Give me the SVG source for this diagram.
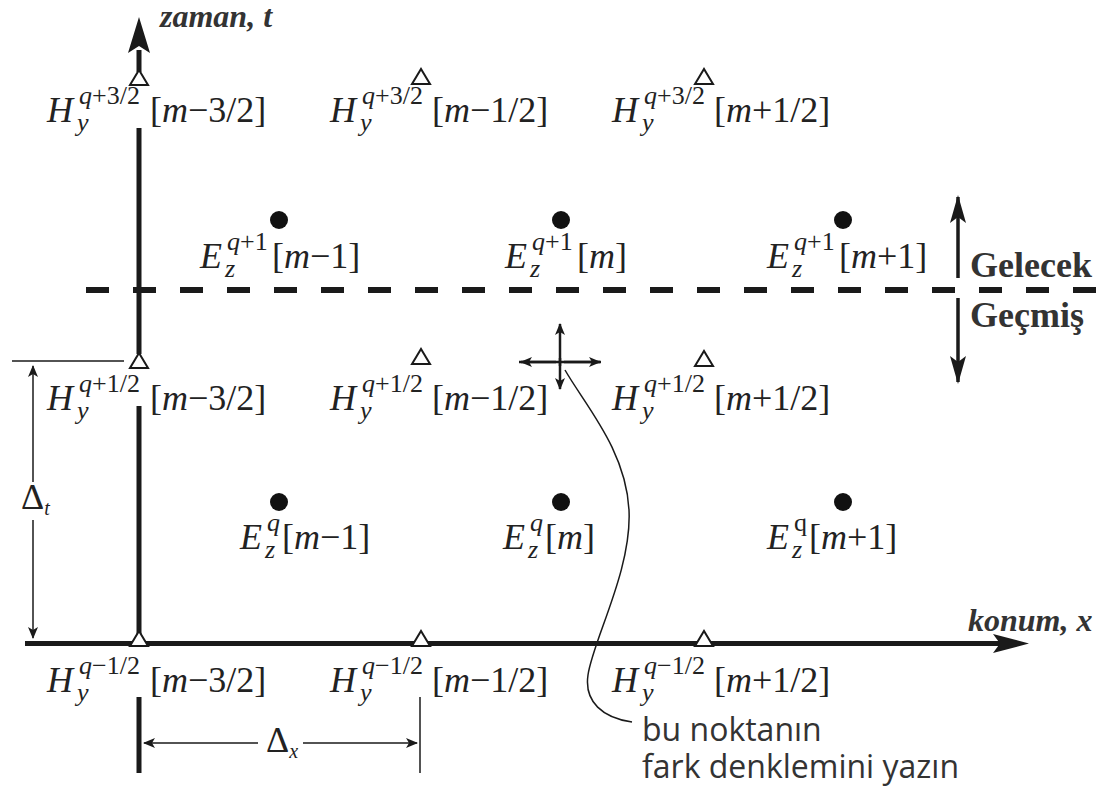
<svg xmlns="http://www.w3.org/2000/svg" width="1113" height="789" viewBox="0 0 1113 789">
<style>
.m{font-size:36px;fill:#222}
.s{font-size:26px;fill:#222}
.i{font-style:italic}
.b{font-weight:bold;fill:#333}
.n{font-family:"Open Sans","Noto Sans",sans-serif;font-size:32px;fill:#333}
.ax{stroke:#1a1a1a;stroke-width:5;fill:none}
.thin{stroke:#1a1a1a;stroke-width:1.5;fill:none}
.tri{fill:#fff;stroke:#1a1a1a;stroke-width:2}
.dot{fill:#111}
</style>
<defs>
<marker id="ah" markerWidth="12" markerHeight="10" refX="11" refY="5" orient="auto" markerUnits="userSpaceOnUse"><path d="M0,0 L12,5 L0,10 L3,5 Z" fill="#1a1a1a"/></marker>
<marker id="ahb" markerWidth="28" markerHeight="16" refX="26" refY="8" orient="auto" markerUnits="userSpaceOnUse"><path d="M0,0 L28,8 L0,16 L6,8 Z" fill="#1a1a1a"/></marker>
</defs>
<g id="connectors">
<path class="ax" d="M139,50 V72 M139,128 V354 M139,406 V640 M139,697 V773"/>
<path d="M139,17 L150,53 L139,46 L128,53 Z" fill="#1a1a1a"/>
<path class="ax" d="M25,643.5 H1000"/>
<path d="M1029,643.5 L993,634 L1000,643.5 L993,653 Z" fill="#1a1a1a"/>
<path d="M86,290 H1096" stroke="#1a1a1a" stroke-width="6" stroke-dasharray="23 24"/>
<path d="M958,278 V197" stroke="#1a1a1a" stroke-width="3.5" marker-end="url(#ahb)"/>
<path d="M958,298 V382" stroke="#1a1a1a" stroke-width="3.5" marker-end="url(#ahb)"/>
<path d="M556,362 H521" stroke="#1a1a1a" stroke-width="2.5" marker-end="url(#ah)"/>
<path d="M564,362 H600" stroke="#1a1a1a" stroke-width="2.5" marker-end="url(#ah)"/>
<path d="M560,366 V324" stroke="#1a1a1a" stroke-width="2.5" marker-end="url(#ah)"/>
<path d="M560,358 V389" stroke="#1a1a1a" stroke-width="2.5" marker-end="url(#ah)"/>
<path d="M519,362 H601" stroke="#1a1a1a" stroke-width="2.5"/>
<path class="thin" d="M632,722 C603,718 584,702 588,675 C593,640 632,570 629,510 C626,450 585,405 565,370"/>
<path class="thin" d="M12,361 H124"/>
<path class="thin" d="M33,482 V366" marker-end="url(#ah)"/>
<path class="thin" d="M33,520 V638" marker-end="url(#ah)"/>
<path class="thin" d="M420,697 V773"/>
<path class="thin" d="M258,743 H144" marker-end="url(#ah)"/>
<path class="thin" d="M303,743 H417" marker-end="url(#ah)"/>
</g>
<g id="triangles">
<polygon class="tri" points="130,85 148,85 139,70"/>
<polygon class="tri" points="412,84 430,84 421,69"/>
<polygon class="tri" points="695,84 713,84 704,69"/>
<polygon class="tri" points="130,368 148,368 139,353"/>
<polygon class="tri" points="412,364 430,364 421,349"/>
<polygon class="tri" points="695,366 713,366 704,351"/>
<polygon class="tri" points="130,646 148,646 139,631"/>
<polygon class="tri" points="412,646 430,646 421,631"/>
<polygon class="tri" points="695,646 713,646 704,631"/>
</g>
<g id="dots">
<circle class="dot" cx="279" cy="220" r="9"/>
<circle class="dot" cx="561" cy="220" r="9"/>
<circle class="dot" cx="843" cy="220" r="9"/>
<circle class="dot" cx="279" cy="502" r="9"/>
<circle class="dot" cx="561" cy="502" r="9"/>
<circle class="dot" cx="843" cy="502" r="9"/>
</g>
<g id="note">
<text class="n" x="642" y="741">bu noktanın</text>
<text class="n" x="642" y="778">fark denklemini yazın</text>
</g>
<g font-family="Liberation Serif, Tinos, Times New Roman, Times, Noto Serif, DejaVu Serif, serif">
<g id="axis-labels">
<text class="b i" x="160" y="27" font-size="32">zaman, t</text>
<text class="b i" x="968" y="631" font-size="32">konum, x</text>
<text class="b" x="970" y="277" font-size="36">Gelecek</text>
<text class="b" x="970" y="327" font-size="36">Geçmiş</text>
<text class="m" x="21" y="509" font-size="28">Δ<tspan class="i" font-size="20" dy="6">t</tspan></text>
<text class="m" x="266" y="752" font-size="28">Δ<tspan class="i" font-size="20" dy="6">x</tspan></text>
</g>
<g id="H-row1">
<text class="m i" x="47" y="122">H</text><text class="s" x="79" y="104"><tspan class="i">q</tspan>+3/2</text><text class="s i" x="77" y="131">y</text><text class="m" x="150" y="122">[<tspan class="i">m</tspan>−3/2]</text>
</g>
<g id="H-row1b">
<text class="m i" x="330" y="122">H</text><text class="s" x="362" y="104"><tspan class="i">q</tspan>+3/2</text><text class="s i" x="360" y="131">y</text><text class="m" x="432" y="122">[<tspan class="i">m</tspan>−1/2]</text>
</g>
<g id="H-row1c">
<text class="m i" x="612" y="122">H</text><text class="s" x="644" y="104"><tspan class="i">q</tspan>+3/2</text><text class="s i" x="642" y="131">y</text><text class="m" x="714" y="122">[<tspan class="i">m</tspan>+1/2]</text>
</g>
<g id="E-row2a">
<text class="m i" x="200" y="268">E</text><text class="s" x="227" y="250"><tspan class="i">q</tspan>+1</text><text class="s i" x="225" y="277">z</text><text class="m" x="272" y="268">[<tspan class="i">m</tspan>−1]</text>
</g>
<g id="E-row2b">
<text class="m i" x="505" y="268">E</text><text class="s" x="532" y="250"><tspan class="i">q</tspan>+1</text><text class="s i" x="530" y="277">z</text><text class="m" x="577" y="268">[<tspan class="i">m</tspan>]</text>
</g>
<g id="E-row2c">
<text class="m i" x="767" y="268">E</text><text class="s" x="794" y="250"><tspan class="i">q</tspan>+1</text><text class="s i" x="792" y="277">z</text><text class="m" x="839" y="268">[<tspan class="i">m</tspan>+1]</text>
</g>
<g id="H-row3a">
<text class="m i" x="47" y="410">H</text><text class="s" x="79" y="392"><tspan class="i">q</tspan>+1/2</text><text class="s i" x="77" y="419">y</text><text class="m" x="150" y="410">[<tspan class="i">m</tspan>−3/2]</text>
</g>
<g id="H-row3b">
<text class="m i" x="330" y="410">H</text><text class="s" x="362" y="392"><tspan class="i">q</tspan>+1/2</text><text class="s i" x="360" y="419">y</text><text class="m" x="432" y="410">[<tspan class="i">m</tspan>−1/2]</text>
</g>
<g id="H-row3c">
<text class="m i" x="612" y="410">H</text><text class="s" x="644" y="392"><tspan class="i">q</tspan>+1/2</text><text class="s i" x="642" y="419">y</text><text class="m" x="714" y="410">[<tspan class="i">m</tspan>+1/2]</text>
</g>
<g id="E-row4a">
<text class="m i" x="240" y="549">E</text><text class="s i" x="267" y="531">q</text><text class="s i" x="265" y="558">z</text><text class="m" x="282" y="549">[<tspan class="i">m</tspan>−1]</text>
</g>
<g id="E-row4b">
<text class="m i" x="503" y="549">E</text><text class="s i" x="530" y="531">q</text><text class="s i" x="528" y="558">z</text><text class="m" x="545" y="549">[<tspan class="i">m</tspan>]</text>
</g>
<g id="E-row4c">
<text class="m i" x="767" y="549">E</text><text class="s" x="794" y="531">q</text><text class="s i" x="792" y="558">z</text><text class="m" x="809" y="549">[<tspan class="i">m</tspan>+1]</text>
</g>
<g id="H-row5a">
<text class="m i" x="47" y="692">H</text><text class="s" x="79" y="674"><tspan class="i">q</tspan>−1/2</text><text class="s i" x="77" y="701">y</text><text class="m" x="150" y="692">[<tspan class="i">m</tspan>−3/2]</text>
</g>
<g id="H-row5b">
<text class="m i" x="330" y="692">H</text><text class="s" x="362" y="674"><tspan class="i">q</tspan>−1/2</text><text class="s i" x="360" y="701">y</text><text class="m" x="432" y="692">[<tspan class="i">m</tspan>−1/2]</text>
</g>
<g id="H-row5c">
<text class="m i" x="612" y="692">H</text><text class="s" x="644" y="674"><tspan class="i">q</tspan>−1/2</text><text class="s i" x="642" y="701">y</text><text class="m" x="714" y="692">[<tspan class="i">m</tspan>+1/2]</text>
</g>
</g>
</svg>
